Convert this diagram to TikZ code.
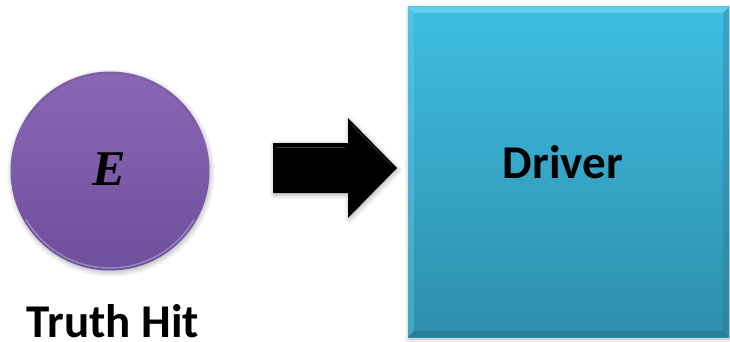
\documentclass[tikz,border=0pt]{standalone}
\usepackage{fontspec}
\setmainfont{Carlito}
\newfontfamily\mathserif{Liberation Serif}
\usetikzlibrary{shadows.blur,calc}
\definecolor{hitTop}{HTML}{8A67B5}
\definecolor{hitBot}{HTML}{6E4F9C}
\definecolor{drvTop}{HTML}{3FBEE2}
\definecolor{drvBot}{HTML}{2D8EAB}
\definecolor{drvLight}{HTML}{6AD2EE}
\definecolor{drvDark}{HTML}{277A92}
\tikzset{
  softshadow/.style={blur shadow={shadow xshift=1pt, shadow yshift=-2pt,
      shadow blur radius=5pt, shadow blur steps=8, shadow opacity=30}},
  textlabel/.style={font=\bfseries\fontsize{47}{50}\selectfont, anchor=base, inner sep=0pt},
}
\begin{document}
\begin{tikzpicture}[x=1pt,y=-1pt]
\useasboundingbox (0,0) rectangle (730,342);

% the hit: a shaded disc with a symbol in the middle
\node[circle, minimum size=199pt, inner sep=0pt, draw=none, softshadow,
      top color=hitTop, bottom color=hitBot] (hit) at (110,171) {};
\draw[white, opacity=0.3, line width=1.5pt] (hit.center) ++(150:97) arc[start angle=150, end angle=30, radius=97];
\draw[black, opacity=0.08, line width=2pt] (hit.center) ++(210:98) arc[start angle=210, end angle=330, radius=98];
\node[anchor=base, inner sep=0pt, font=\mathserif\bfseries\itshape\fontsize{50}{54}\selectfont]
  (sym) at (109,185) {E};
\node[textlabel] (hitlabel) at (113,337) {Truth Hit};

% the driver: a bevelled block
\path[softshadow, top color=drvTop, bottom color=drvBot] (408,7) rectangle (729,337);
\node[inner sep=0pt, minimum width=321pt, minimum height=330pt] (driver) at (568.5,172) {};
\fill[drvLight, opacity=0.8] (driver.north west) -- (driver.north east) -- ++(-6,6) -- ($(driver.north west)+(6,6)$) -- cycle;
\fill[drvLight, opacity=0.35] (driver.north west) -- ++(6,6) -- ($(driver.south west)+(6,-6)$) -- (driver.south west) -- cycle;
\fill[drvDark, opacity=0.8] (driver.south west) -- ++(6,-6) -- ($(driver.south east)+(-6,-6)$) -- (driver.south east) -- cycle;
\fill[drvDark, opacity=0.35] (driver.north east) -- ++(-6,6) -- ($(driver.south east)+(-6,-6)$) -- (driver.south east) -- cycle;
\node[textlabel] (drvlabel) at (563,178) {Driver};

% the block arrow between them
\fill[black, softshadow] (273,143) -- (348,143) -- (348,118) -- (397,168) -- (348,218)
  -- (348,193) -- (273,193) -- cycle;
\draw[white, opacity=0.25, line width=1pt] (276,147) -- (345,147);
\draw[white, opacity=0.15, line width=1pt] (351,124) -- (392,166);
\end{tikzpicture}
\end{document}
